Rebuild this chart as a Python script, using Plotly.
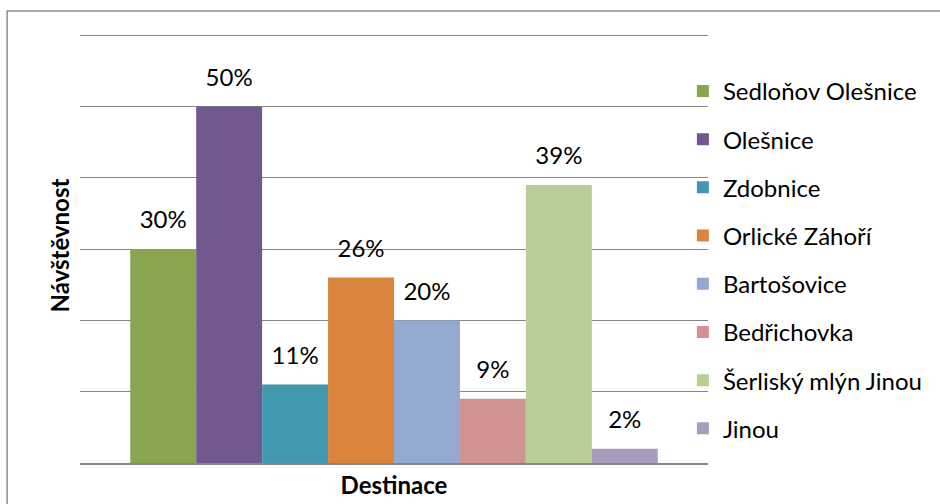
import plotly.graph_objects as go

destinations = ["Sedloňov Olešnice", "Olešnice", "Zdobnice", "Orlické Záhoří",
                "Bartošovice", "Bedřichovka", "Šerliský mlýn Jinou", "Jinou"]
shares = [0.30, 0.50, 0.11, 0.26, 0.20, 0.09, 0.39, 0.02]
colors = ["#89A54E", "#71588F", "#4198AF", "#DB843D",
          "#93A9CF", "#D19392", "#B9CD96", "#A99BBD"]

FONT = "Lato"
FS = 24

fig = go.Figure()
for name, val, col in zip(destinations, shares, colors):
    fig.add_trace(go.Bar(
        x=[""], y=[val], name=name, offsetgroup=name, legendgroup=name,
        marker=dict(color=col, line=dict(width=0)),
    ))
for name, val in zip(destinations, shares):
    fig.add_trace(go.Scatter(
        x=[""], y=[val], offsetgroup=name, legendgroup=name, showlegend=False,
        mode="markers+text", marker=dict(size=22, opacity=0),
        text=[f"{round(val * 100)}%"], textposition="top center",
        textfont=dict(family=FONT, size=FS, color="#000000"),
        cliponaxis=False, hoverinfo="skip",
    ))

fig.update_layout(
    width=940, height=504,
    margin=dict(l=80, r=232, t=28, b=41),
    paper_bgcolor="white", plot_bgcolor="white",
    barmode="group", bargap=0.16, bargroupgap=0,
    scattermode="group", scattergap=0.16,
    font=dict(family=FONT, size=FS, color="#000000"),
    showlegend=True,
    legend=dict(x=0.96, xanchor="left", y=0.467, yanchor="middle",
                traceorder="grouped", tracegroupgap=14,
                font=dict(family=FONT, size=FS, color="#000000"),
                bgcolor="rgba(0,0,0,0)"),
    xaxis=dict(showticklabels=False, showgrid=False, zeroline=False,
               showline=True, linecolor="#868686", linewidth=1.5, ticks="",
               automargin=False,
               title=dict(text="<b>Destinace</b>", standoff=13,
                          font=dict(family=FONT, size=FS))),
    yaxis=dict(range=[0, 0.61], dtick=0.1, showticklabels=False,
               showgrid=True, gridcolor="#868686", gridwidth=1,
               zeroline=False, showline=False, ticks="", automargin=False,
               title=dict(text="<b>Návštěvnost</b>", standoff=2,
                          font=dict(family=FONT, size=FS))),
    shapes=[dict(type="rect", xref="paper", yref="paper",
                 x0=-0.116, y0=-0.3, x1=1.6, y1=1.039,
                 line=dict(color="#8C8C8C", width=1.5), fillcolor="rgba(0,0,0,0)",
                 layer="below")],
)

fig.write_html("out.html", config={"displayModeBar": False},
               post_script="document.body.style.margin='0';document.body.style.padding='0';")
